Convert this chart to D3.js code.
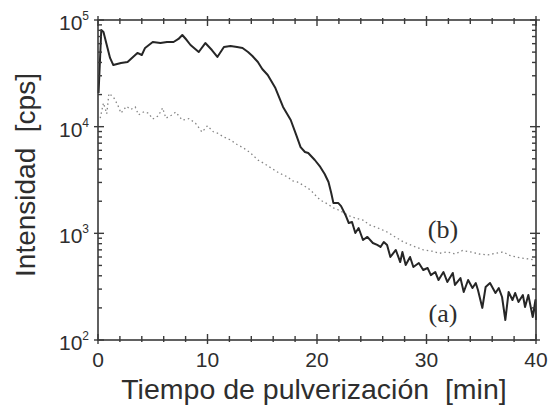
<!DOCTYPE html>
<html>
<head>
<meta charset="utf-8">
<script src="https://cdn.jsdelivr.net/npm/d3@7"></script>
<style>
  body { margin: 0; background: #fff; }
  text { font-family: "Liberation Sans", Arial, Helvetica, sans-serif; fill: #2e2e2e; }
  .serif { font-family: "Liberation Serif", "Times New Roman", serif; }
</style>
</head>
<body>
<svg id="chart" width="549" height="408"></svg>
<script>
// Sputtering profile: intensity (counts per second) vs sputtering time (min)
const timeA = [0.05, 0.3, 0.5, 0.8, 1.1, 1.4, 2.1, 2.7, 3.2, 3.6, 4.0, 4.3, 5.0, 5.7, 6.3, 6.9, 7.35, 7.7, 8.1, 8.45,
  9.2, 9.8, 10.4, 10.9, 11.5, 12.1, 12.7, 13.2, 13.7, 14.1, 14.6, 15.0, 15.5, 16.2, 16.9, 17.6, 18.1, 18.5, 18.9, 19.2,
  19.8, 20.3, 20.7, 21.05, 21.3, 21.5, 21.95, 22.2, 22.6, 22.9, 23.2, 23.5, 23.8, 24.2, 24.6, 25.1, 25.5, 25.8, 26.1, 26.4,
  26.7, 27.2, 27.6, 27.8, 28.1, 28.5, 28.8, 29.3, 29.7, 30.1, 30.4, 30.8, 31.1, 31.55, 31.9, 32.4, 32.6, 33.1, 33.4, 33.8,
  34.2, 34.5, 34.7, 35.1, 35.4, 35.8, 36.3, 36.6, 36.9, 37.2, 37.5, 37.85, 38.1, 38.4, 38.8, 39.0, 39.3, 39.7, 39.95, 40.0];
const intensityA = [20700, 80500, 77200, 58300, 44100, 37800, 39500, 40400, 45000, 49100, 47000, 54700, 62200, 60900, 62200, 62200, 66400, 72300, 64900, 58300,
  50100, 60800, 52300, 45000, 55800, 57000, 55800, 54700, 50100, 46000, 40400, 34700, 30500, 23000, 15300, 11550, 8360, 6440, 5790, 5660,
  4870, 4190, 3600, 3030, 2390, 1920, 1920, 1800, 1486, 1250, 1277, 1007, 1122, 866, 925, 812, 778, 745, 830, 778,
  600, 698, 538, 668, 505, 600, 483, 527, 453, 473, 406, 434, 365, 434, 350, 425, 328, 381, 282, 365,
  307, 342, 294, 200, 314, 342, 276, 307, 253, 154, 282, 237, 276, 227, 264, 204, 264, 164, 237, 154];

const timeB = [0.2, 0.5, 0.8, 1.0, 1.4, 1.8, 2.1, 2.6, 3.0, 3.4, 3.7, 4.2, 4.6, 5.0, 5.5, 5.9, 6.2, 6.7, 7.1, 7.7,
  8.3, 8.9, 9.5, 10.0, 10.5, 10.9, 11.5, 12.1, 12.7, 13.3, 13.9, 14.6, 15.2, 15.8, 16.5, 17.3, 17.8, 18.2, 18.8, 19.4,
  19.9, 20.3, 20.9, 21.5, 22.0, 22.6, 23.2, 24.2, 24.8, 25.5, 26.4, 27.1, 27.9, 28.8, 29.7, 30.5, 31.2, 31.9, 32.6, 33.3,
  34.0, 34.8, 35.6, 36.3, 37.0, 37.6, 38.2, 38.6, 39.3, 39.9];
const intensityB = [12000, 16700, 13200, 20500, 19000, 16000, 13400, 15500, 14500, 15300, 12900, 13800, 13400, 11800, 12600, 15000, 12000, 12800, 13700, 11500,
  11900, 10800, 8900, 10200, 9000, 8700, 8000, 7500, 6800, 6300, 5700, 4870, 4500, 4100, 3700, 3380, 3100, 3030, 2800, 2550,
  2250, 2050, 1900, 1730, 1650, 1520, 1420, 1330, 1200, 1130, 1030, 930, 830, 760, 700, 680, 650, 670, 640, 690,
  670, 640, 627, 650, 670, 620, 600, 587, 575, 562];

const xMajorTicks = [0, 10, 20, 30, 40];
const xMinorStep = 2;
const yExponents = [2, 3, 4, 5];
const curveLabels = ["(a)", "(b)"];

const svg = d3.select("#chart");
const plotLeft = 98, plotRight = 536, plotTop = 20, plotBottom = 340;

const x = d3.scaleLinear().domain([0, 40]).range([plotLeft, plotRight]);
const y = d3.scaleLog().domain([100, 100000]).range([plotBottom, plotTop]);

const axisColor = "#3a3a3a";

// curve (b): dotted grey
const lineB = d3.line().x((d, i) => x(timeB[i])).y(d => y(d));
svg.append("path")
  .attr("d", lineB(intensityB))
  .attr("fill", "none")
  .attr("stroke", "#858585")
  .attr("stroke-width", 1.3)
  .attr("stroke-dasharray", "1.5,3");

// curve (a): solid dark
const lineA = d3.line().x((d, i) => x(timeA[i])).y(d => y(d));
svg.append("path")
  .attr("d", lineA(intensityA))
  .attr("fill", "none")
  .attr("stroke", "#262626")
  .attr("stroke-width", 2)
  .attr("stroke-linejoin", "round");

// frame
svg.append("rect")
  .attr("x", plotLeft).attr("y", plotTop)
  .attr("width", plotRight - plotLeft).attr("height", plotBottom - plotTop)
  .attr("fill", "none").attr("stroke", axisColor).attr("stroke-width", 1.6);

// x ticks (bottom and top, pointing inwards)
const xMinor = d3.range(0, 40 + 0.001, xMinorStep).filter(v => !xMajorTicks.includes(v));
const xTickData = xMajorTicks.map(v => ({ v, major: true })).concat(xMinor.map(v => ({ v, major: false })));
const tickG = svg.append("g").attr("stroke", axisColor).attr("stroke-width", 1.4);
xTickData.forEach(t => {
  const inLen = t.major ? 6 : 4, outLen = t.major ? 4 : 2;
  tickG.append("line").attr("x1", x(t.v)).attr("x2", x(t.v)).attr("y1", plotBottom + outLen).attr("y2", plotBottom - inLen);
  tickG.append("line").attr("x1", x(t.v)).attr("x2", x(t.v)).attr("y1", plotTop - outLen).attr("y2", plotTop + inLen);
});

// y ticks (log decades plus minor ticks)
const yTickData = [];
yExponents.forEach((e, i) => {
  yTickData.push({ v: Math.pow(10, e), major: true });
  if (i < yExponents.length - 1) {
    for (let m = 2; m <= 9; m++) yTickData.push({ v: m * Math.pow(10, e), major: false });
  }
});
yTickData.forEach(t => {
  const inLen = t.major ? 6 : 4, outLen = t.major ? 4 : 0;
  tickG.append("line").attr("y1", y(t.v)).attr("y2", y(t.v)).attr("x1", plotLeft - outLen).attr("x2", plotLeft + inLen);
  tickG.append("line").attr("y1", y(t.v)).attr("y2", y(t.v)).attr("x1", plotRight + outLen).attr("x2", plotRight - inLen);
});

// x tick labels
svg.append("g").selectAll("text").data(xMajorTicks).join("text")
  .attr("x", d => x(d)).attr("y", 367)
  .attr("text-anchor", "middle")
  .attr("font-size", 21)
  .text(d => d);

// y tick labels 10^n
const yLab = svg.append("g").selectAll("text").data(yExponents).join("text")
  .attr("x", 89).attr("y", d => y(Math.pow(10, d)) + 10)
  .attr("text-anchor", "end")
  .attr("font-size", 21);
yLab.append("tspan").text("10");
yLab.append("tspan").attr("font-size", 12).attr("dy", -10).text(d => d);

// axis titles
svg.append("text")
  .attr("x", 314).attr("y", 399)
  .attr("text-anchor", "middle")
  .attr("font-size", 28.5)
  .attr("xml:space", "preserve")
  .text("Tiempo de pulverización  [min]");

svg.append("text")
  .attr("transform", "translate(35,175) rotate(-90)")
  .attr("text-anchor", "middle")
  .attr("font-size", 28)
  .attr("xml:space", "preserve")
  .text("Intensidad  [cps]");

// curve labels
svg.append("text").attr("class", "serif")
  .attr("x", x(31.5)).attr("y", 238)
  .attr("text-anchor", "middle").attr("font-size", 26)
  .text(curveLabels[1]);
svg.append("text").attr("class", "serif")
  .attr("x", x(31.5)).attr("y", 322)
  .attr("text-anchor", "middle").attr("font-size", 26)
  .text(curveLabels[0]);
</script>
</body>
</html>
